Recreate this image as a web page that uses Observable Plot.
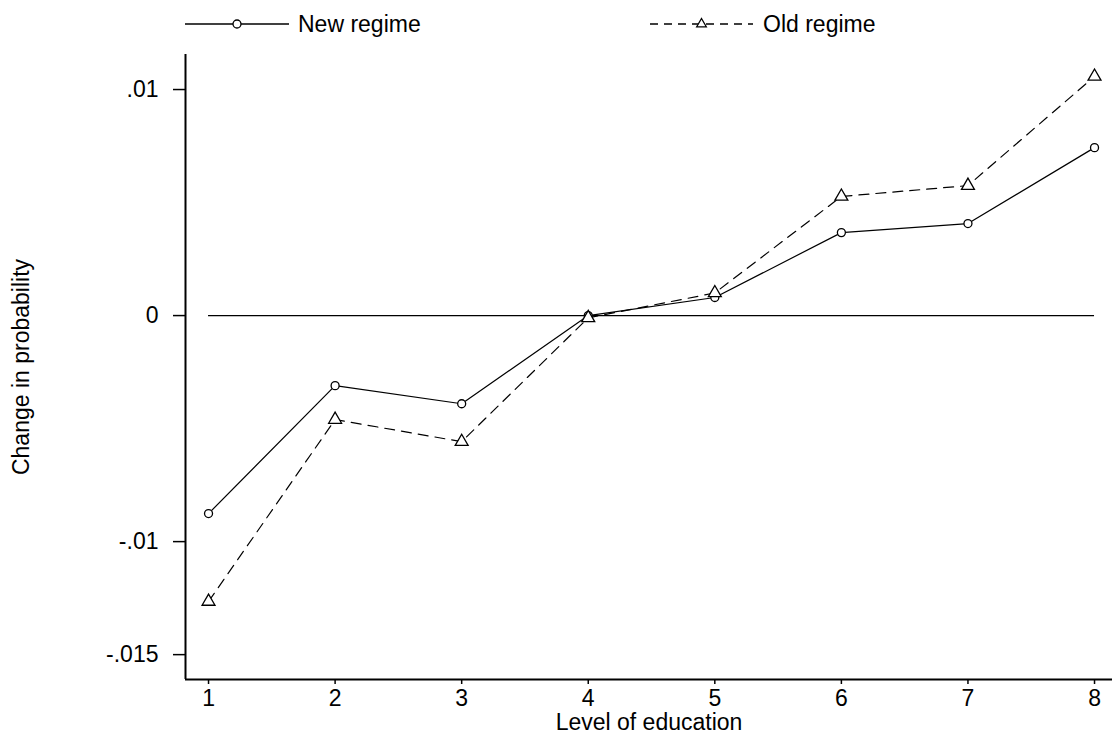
<!DOCTYPE html>
<html><head><meta charset="utf-8">
<script src="https://cdn.jsdelivr.net/npm/d3@7"></script>
<script src="https://cdn.jsdelivr.net/npm/@observablehq/plot@0.6"></script>
<style>
body{margin:0;background:#fff;}
#wrap{position:relative;width:1112px;height:744px;font-family:"Liberation Sans",Arial,sans-serif;}
#legend{position:absolute;left:0;top:0;}
#chart{position:absolute;left:0;top:40px;}
</style></head><body>
<div id="wrap"><div id="legend"></div><div id="chart"></div></div>
<script>
const levels = [1, 2, 3, 4, 5, 6, 7, 8];
const newRegime = [-0.00876, -0.0031, -0.0039, 0, 0.0008, 0.00367, 0.00407, 0.00743];
const oldRegime = [-0.01265, -0.0046, -0.00558, -0.0001, 0.001, 0.00527, 0.00575, 0.01058];
const yTicks = [0.01, 0, -0.01, -0.015];
const yTickLabels = [".01", "0", "-.01", "-.015"];
const seriesNames = ["New regime", "Old regime"];
const xTitle = "Level of education";
const yTitle = "Change in probability";

const newData = levels.map((x, i) => ({x, y: newRegime[i]}));
const oldData = levels.map((x, i) => ({x, y: oldRegime[i]}));

const xDomain = [0.818, 8.142];
const yDomain = [-0.0161, 0.01155];
const font = "'Liberation Sans', Arial, sans-serif";

const chart = Plot.plot({
  width: 1112, height: 704,
  marginLeft: 185, marginRight: 0, marginTop: 14, marginBottom: 65,
  x: {domain: xDomain},
  y: {domain: yDomain},
  style: {fontFamily: font, fontSize: "23px", color: "#000", background: "#fff", overflow: "visible"},
  marks: [
    Plot.ruleY([0], {x1: d3.min(levels), x2: d3.max(levels), stroke: "#000", strokeWidth: 1.2}),
    Plot.line(newData, {x: "x", y: "y", stroke: "#000", strokeWidth: 1.2}),
    Plot.line(oldData, {x: "x", y: "y", stroke: "#000", strokeWidth: 1.2, strokeDasharray: "10,7"}),
    Plot.dot(newData, {x: "x", y: "y", symbol: "circle", r: 4, stroke: "#000", strokeWidth: 1.3, fill: "#fff"}),
    Plot.dot(oldData, {x: "x", y: "y", symbol: "triangle", r: 4.8, stroke: "#000", strokeWidth: 1.3, fill: "#fff"}),
    Plot.ruleX([xDomain[0]], {stroke: "#000", strokeWidth: 2}),
    Plot.ruleY([yDomain[0]], {stroke: "#000", strokeWidth: 2}),
    Plot.axisY(yTicks, {tickSize: 12, tickPadding: 15, strokeWidth: 1.5,
      tickFormat: d => yTickLabels[yTicks.indexOf(d)],
      label: yTitle, labelAnchor: "center", labelArrow: "none", labelOffset: 173}),
    Plot.axisX(levels, {tickSize: 5, tickPadding: 5, strokeWidth: 1.5,
      tickFormat: d => String(d),
      label: xTitle, labelAnchor: "center", labelArrow: "none", labelOffset: 50})
  ]
});
document.getElementById("chart").appendChild(chart);

// Legend above the chart
const lg = d3.select("#legend").append("svg").attr("width", 1112).attr("height", 40)
  .style("font-family", font).style("font-size", "23px");
const items = [
  {name: seriesNames[0], x0: 185, x1: 289, dash: null, sym: d3.symbolCircle, size: 50, tx: 298},
  {name: seriesNames[1], x0: 650, x1: 753, dash: "8,6", sym: d3.symbolTriangle, size: 40, tx: 763}
];
for (const it of items) {
  lg.append("line").attr("x1", it.x0).attr("x2", it.x1).attr("y1", 24).attr("y2", 24)
    .attr("stroke", "#000").attr("stroke-width", 1.3).attr("stroke-dasharray", it.dash);
  lg.append("path").attr("d", d3.symbol(it.sym, it.size)())
    .attr("transform", `translate(${(it.x0 + it.x1) / 2},24)`)
    .attr("fill", "#fff").attr("stroke", "#000").attr("stroke-width", 1.3);
  lg.append("text").attr("x", it.tx).attr("y", 32).text(it.name);
}
</script>
</body></html>
